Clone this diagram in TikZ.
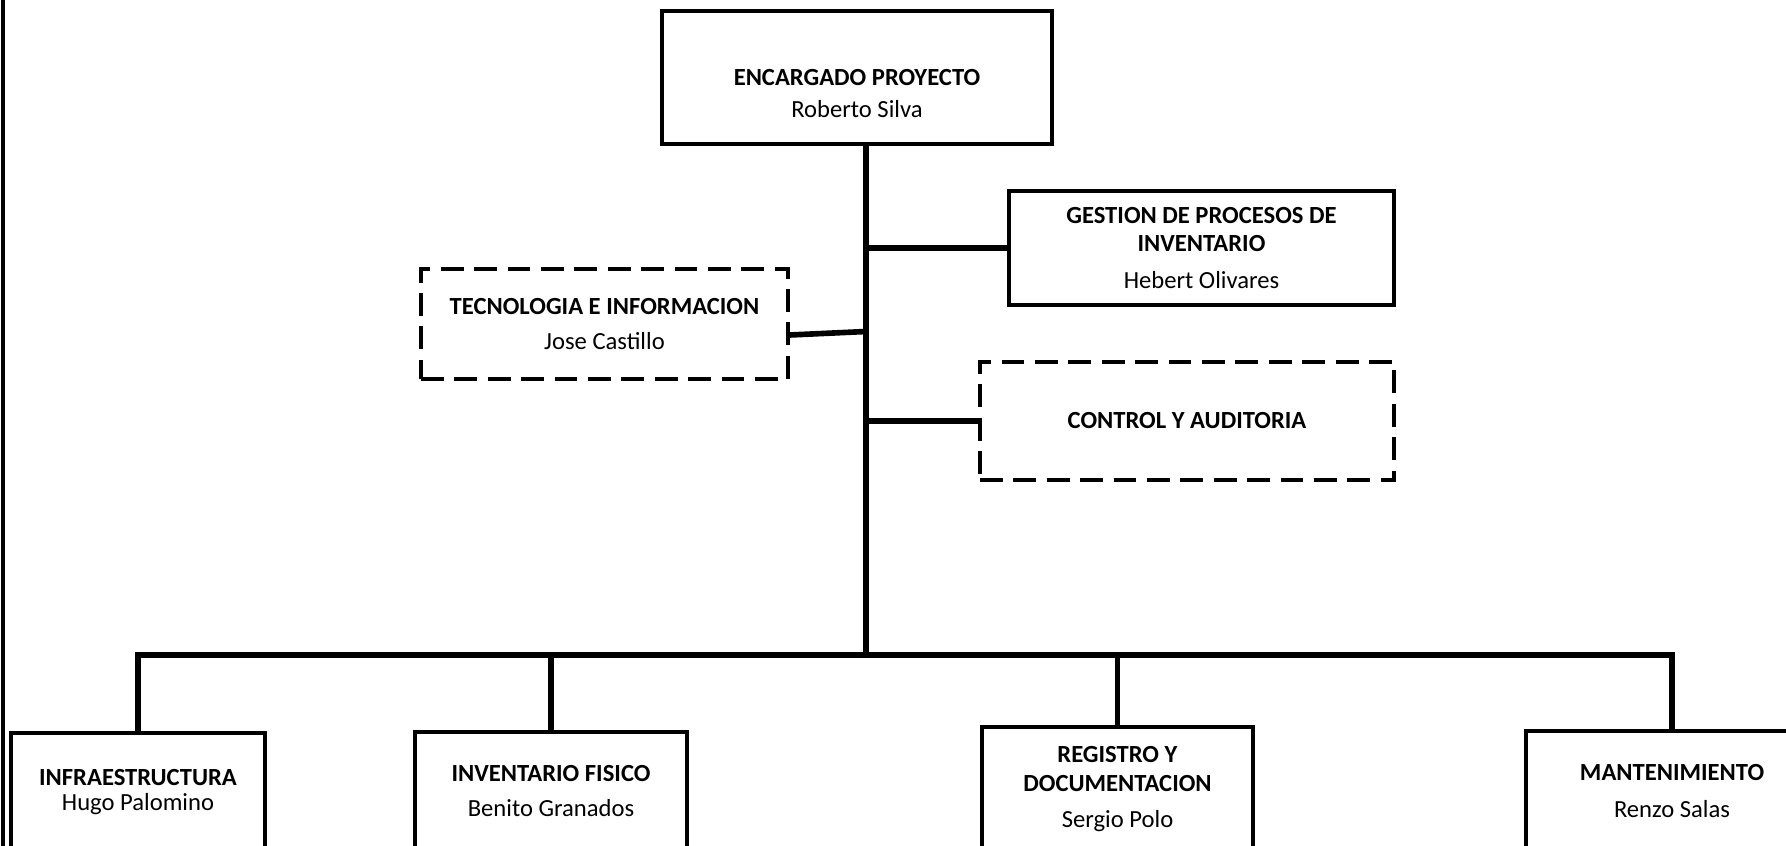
\documentclass[tikz,border=0pt]{standalone}
\usepackage{fontspec}
\setmainfont{Carlito}
\usetikzlibrary{calc}

\begin{document}
\begin{tikzpicture}[x=0.01cm,y=-0.01cm,
       font=\fontsize{7}{8.1}\selectfont,
       area node/.style={rectangle,draw,line width=0.95pt,align=center,inner sep=0pt},
       apoyo node/.style={area node,dash pattern=on 6.5pt off 3pt},
       linea/.style={line width=1.6pt}]

      \useasboundingbox (0,0) rectangle (1786,846);
      \clip (0,0) rectangle (1786,846);
      \draw[line width=0.95pt] (3,0) -- (3,846);

      \node[area node,minimum width=3.9cm,minimum height=1.33cm,text height=23pt] at (857,77.5) (1)
        {\textbf{ENCARGADO PROYECTO}\\[1pt]Roberto Silva};
      \node[area node,minimum width=3.85cm,minimum height=1.14cm] at (1201.5,248) (2)
        {\textbf{GESTION DE PROCESOS DE}\\\textbf{INVENTARIO}\\[2.5pt]Hebert Olivares};
      \node[apoyo node,minimum width=3.67cm,minimum height=1.1cm] at (604.5,324) (3)
        {\textbf{TECNOLOGIA E INFORMACION}\\[1.8pt]Jose Castillo};
      \node[apoyo node,minimum width=4.14cm,minimum height=1.18cm] at (1187,421) (4)
        {\textbf{CONTROL Y AUDITORIA}};
      \node[area node,minimum width=2.54cm,minimum height=1.18cm] at (138,792) (5)
        {\textbf{INFRAESTRUCTURA}\\[-1pt]Hugo Palomino};
      \node[area node,minimum width=2.72cm,minimum height=1.18cm] at (551,791) (6)
        {\textbf{INVENTARIO FISICO}\\[1.8pt]Benito Granados};
      \node[area node,minimum width=2.71cm,minimum height=1.24cm] at (1117.5,789) (7)
        {\textbf{REGISTRO Y}\\\textbf{DOCUMENTACION}\\[2.2pt]Sergio Polo};
      \node[area node,minimum width=2.92cm,minimum height=1.2cm] at (1672,791) (8)
        {\textbf{MANTENIMIENTO}\\[2.3pt]Renzo Salas};

      \coordinate (bus) at (866,655);

      \draw[linea] (1.south -| bus) -- (bus);
      \draw[linea] (2.west) -- (2.west -| bus);
      \draw[linea] ($(3.east)+(0,11)$) -- ($(3.east -| bus)+(0,7.5)$);
      \draw[linea] (4.west) -- (4.west -| bus);
      \draw[linea] (5.north) |- (bus) -| (8.north);
      \draw[linea] (6.north) -- (6.north |- bus);
      \draw[linea] (7.north) -- (7.north |- bus);

    \end{tikzpicture}
\end{document}
